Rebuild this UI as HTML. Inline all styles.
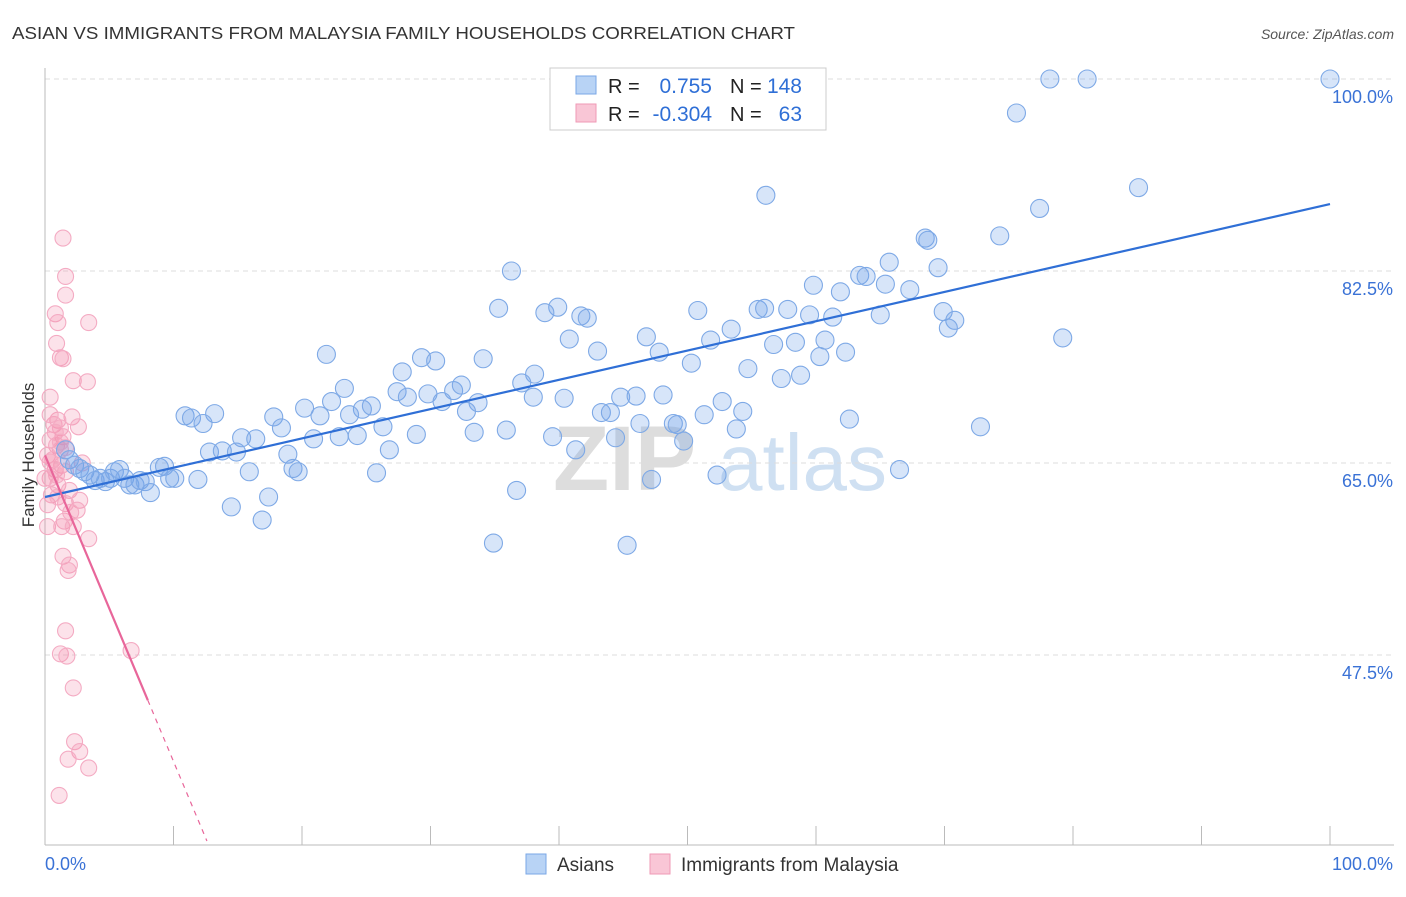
<!DOCTYPE html>
<html><head><meta charset="utf-8"><style>
body{margin:0;background:#fff;font-family:"Liberation Sans",sans-serif;}
svg text{font-family:"Liberation Sans",sans-serif;}
</style></head><body>
<svg id="chart" width="1406" height="892" xmlns="http://www.w3.org/2000/svg">
<text x="12" y="39" font-size="17.5" fill="#333" textLength="783" lengthAdjust="spacingAndGlyphs">ASIAN VS IMMIGRANTS FROM MALAYSIA FAMILY HOUSEHOLDS CORRELATION CHART</text>
<text x="1394" y="39" font-size="14" fill="#555" font-style="italic" text-anchor="end">Source: ZipAtlas.com</text>
<text x="34" y="455" font-size="17" fill="#333" text-anchor="middle" transform="rotate(-90 34 455)">Family Households</text>
<g><text x="553" y="490" font-size="92" fill="#ddd" font-weight="bold" font-family="Liberation Serif">ZIP</text><text x="718" y="490" font-size="80" fill="#cfe0f2">atlas</text></g>
<g id="grid"></g><g id="pts"></g><g id="lines"></g>
<g>
<rect x="550" y="68" width="276" height="62" fill="#fff" stroke="#ccc"/>
<rect x="576" y="76" width="20" height="18" fill="#b8d3f5" stroke="#7aa7e6"/>
<rect x="576" y="104" width="20" height="18" fill="#f9c6d6" stroke="#ef9ab6"/>
<text x="608" y="93" font-size="20" fill="#222">R =</text><text x="712" y="93" font-size="21" fill="#2f6fd6" text-anchor="end">0.755</text>
<text x="730" y="93" font-size="20" fill="#222">N =</text><text x="802" y="93" font-size="21" fill="#2f6fd6" text-anchor="end">148</text>
<text x="608" y="121" font-size="20" fill="#222">R =</text><text x="712" y="121" font-size="21" fill="#2f6fd6" text-anchor="end">-0.304</text>
<text x="730" y="121" font-size="20" fill="#222">N =</text><text x="802" y="121" font-size="21" fill="#2f6fd6" text-anchor="end">63</text>
</g>
<g>
<rect x="526" y="854" width="20" height="20" fill="#b8d3f5" stroke="#7aa7e6"/><text x="557" y="871" font-size="19" fill="#333">Asians</text>
<rect x="650" y="854" width="20" height="20" fill="#f9c6d6" stroke="#ef9ab6"/><text x="681" y="871" font-size="19" fill="#333">Immigrants from Malaysia</text>
</g>
</svg>
<script>
const asianX=[78.2,81.1,100,75.6,85.1,56.1,77.4,68.5,68.7,74.3,65.7,63.4,63.9,69.5,36.3,59.8,61.9,65.4,67.3,35.3,39.9,38.9,41.7,42.2,50.8,55.5,56.0,57.8,59.5,61.3,65.0,69.9,70.8,70.3,79.2,53.4,46.8,40.8,51.8,43.0,47.8,56.7,58.4,60.7,62.3,60.3,21.9,29.3,30.4,34.1,27.8,38.1,50.3,54.7,57.3,58.8,23.3,27.4,28.2,29.8,31.8,32.4,37.1,38.0,33.7,40.4,44.8,46.0,48.1,20.2,22.3,24.7,25.4,30.9,32.8,43.3,44.0,52.7,54.3,51.3,62.6,10.9,11.4,13.2,12.3,17.8,21.4,23.7,26.3,33.4,35.9,46.3,48.9,49.2,53.8,72.8,18.4,15.3,16.4,20.9,22.9,24.3,28.9,39.5,44.4,49.7,12.8,13.8,14.9,26.8,41.3,18.9,8.9,9.3,19.3,19.7,15.9,25.8,52.3,66.5,1.6,1.9,2.3,2.7,3.1,3.5,3.9,4.3,4.7,5.1,5.4,5.8,6.2,6.6,7.0,7.4,7.8,8.2,9.7,10.1,11.9,14.5,16.9,17.4,36.7,47.2,34.9,45.3];
const asianY=[100,100,100,96.9,90.1,89.4,88.2,85.5,85.3,85.7,83.3,82.1,82.0,82.8,82.5,81.2,80.6,81.3,80.8,79.1,79.2,78.7,78.4,78.2,78.9,79.0,79.1,79.0,78.5,78.3,78.5,78.8,78.0,77.3,76.4,77.2,76.5,76.3,76.2,75.2,75.1,75.8,76.0,76.2,75.1,74.7,74.9,74.6,74.3,74.5,73.3,73.1,74.1,73.6,72.7,73.0,71.8,71.5,71.0,71.3,71.6,72.1,72.3,71.0,70.5,70.9,71.0,71.1,71.2,70.0,70.6,69.9,70.2,70.6,69.7,69.6,69.6,70.6,69.7,69.4,69.0,69.3,69.1,69.5,68.6,69.2,69.3,69.4,68.3,67.8,68.0,68.6,68.6,68.5,68.1,68.3,68.2,67.3,67.2,67.2,67.4,67.5,67.6,67.4,67.3,67.0,66.0,66.1,66.0,66.2,66.2,65.8,64.6,64.7,64.5,64.2,64.2,64.1,63.9,64.4,66.2,65.3,64.8,64.5,64.2,63.9,63.4,63.6,63.3,63.6,64.2,64.4,63.6,63.0,63.0,63.4,63.3,62.3,63.6,63.6,63.5,61.0,59.8,61.9,62.5,63.5,57.7,57.5];
const malX=[1.4,1.6,1.6,0.8,1.0,3.4,0.9,1.2,1.4,2.2,3.3,0.4,2.1,1.0,0.7,1.2,2.6,1.4,0.4,0.9,1.2,0.2,0.6,1.3,0.8,2.9,1.6,0.4,1.0,1.9,0.5,2.7,0.2,2.5,1.5,0.2,1.3,2.2,3.4,1.4,1.9,1.8,1.6,1.2,1.7,6.7,2.2,2.3,2.7,1.8,3.4,1.1,0.4,0.8,1.2,1.6,0.4,0.9,0,1.0,1.6,2.0];
const malY=[85.5,82.0,80.3,78.6,77.8,77.8,75.9,74.6,74.5,72.5,72.4,71.0,69.2,68.9,68.5,68.2,68.3,67.4,67.1,66.6,66.2,65.7,65.3,64.8,64.4,65.0,64.2,63.6,63.0,62.5,62.1,61.6,61.2,60.7,59.7,59.2,59.2,59.2,58.1,56.5,55.7,55.2,49.7,47.6,47.4,47.9,44.5,39.6,38.7,38.0,37.2,34.7,69.4,67.8,66.9,66.4,65.1,63.9,63.6,61.9,61.3,60.5];
const asianTrend=[61.9,88.6];
const malTrend=[65.7,-2.79];
const malSolidEnd=8.0, malDashEnd=12.6;
const yTicks=[100,82.5,65,47.5];
const yTickLabels=["100.0%","82.5%","65.0%","47.5%"];

const NS="http://www.w3.org/2000/svg";
const X=v=>45+v*12.85, Y=v=>79+(100-v)*10.971;
function mk(tag,attrs,parent){const e=document.createElementNS(NS,tag);for(const k in attrs)e.setAttribute(k,attrs[k]);document.getElementById(parent).appendChild(e);return e;}
yTicks.forEach((t,i)=>{
 const g=mk('line',{x1:45,x2:1394,y1:Y(t),y2:Y(t),stroke:'#ddd','stroke-dasharray':'5,4'},'grid');
 
 
 const l=mk('text',{x:1393,y:Y(t)+24,'font-size':18,fill:'#3a72d6','text-anchor':'end'},'grid');
 l.textContent=yTickLabels[i];
 
 
});
const ax=mk('line',{x1:45,x2:45,y1:68,y2:845,stroke:'#bbb'},'grid');


const bx=mk('line',{x1:45,x2:1394,y1:845,y2:845,stroke:'#bbb'},'grid');


for(let i=0;i<=10;i++){const t=mk('line',{x1:X(i*10),x2:X(i*10),y1:826,y2:845,stroke:'#bbb'},'grid');
 
 }
const xl0=mk('text',{x:45,y:870,'font-size':18,fill:'#3a72d6'},'grid');xl0.textContent='0.0%';


const xl1=mk('text',{x:1393,y:870,'font-size':18,fill:'#3a72d6','text-anchor':'end'},'grid');xl1.textContent='100.0%';


malX.forEach((x,i)=>{const c=mk('circle',{cx:X(x),cy:Y(malY[i]),r:8,fill:'rgba(242,140,172,0.25)',stroke:'#f4abc3','stroke-width':1.1},'pts');
 
 });
asianX.forEach((x,i)=>{const c=mk('circle',{cx:X(x),cy:Y(asianY[i]),r:9,fill:'rgba(110,160,235,0.28)',stroke:'#7ea9e6','stroke-width':1.1},'pts');
 
 });
const bl=mk('line',{x1:X(0),y1:Y(asianTrend[0]),x2:X(100),y2:Y(asianTrend[1]),stroke:'#2f6fd6','stroke-width':2.2},'lines');


const mY=x=>malTrend[0]+malTrend[1]*x;
const pl=mk('line',{x1:X(0),y1:Y(mY(0)),x2:X(malSolidEnd),y2:Y(mY(malSolidEnd)),stroke:'#e8669a','stroke-width':2.2},'lines');


const pd=mk('line',{x1:X(malSolidEnd),y1:Y(mY(malSolidEnd)),x2:X(malDashEnd),y2:Y(mY(malDashEnd)),stroke:'#e8669a','stroke-width':1.2,'stroke-dasharray':'5,5'},'lines');


</script>
</body></html>
